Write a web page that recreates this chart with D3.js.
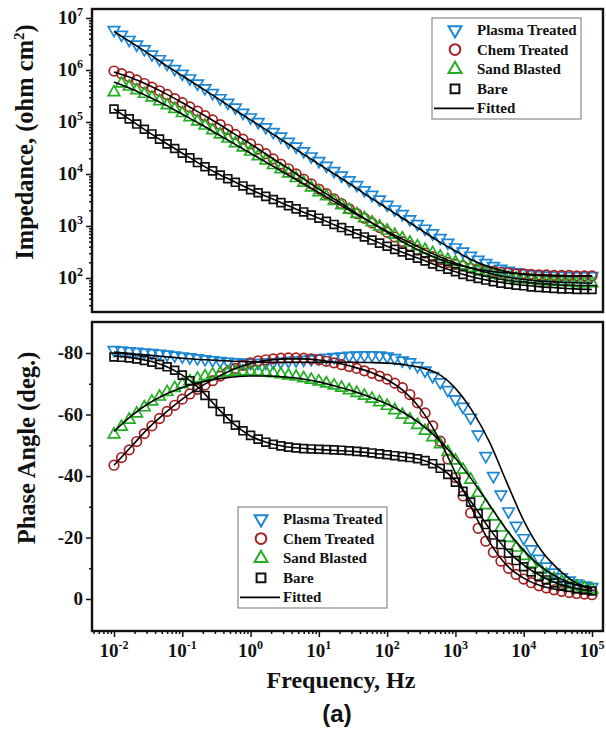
<!DOCTYPE html>
<html>
<head>
<meta charset="utf-8">
<script src="https://cdn.jsdelivr.net/npm/d3@7.9.0/dist/d3.min.js"></script>
<style>
  body { margin: 0; background: #fff; }
  svg text { font-family: "Liberation Serif", "DejaVu Serif", serif; font-weight: bold; fill: #111; }
  .axis line { stroke: #111; stroke-width: 1.5; }
</style>
</head>
<body>
<svg id="chart" width="606" height="731"></svg>
<script>
// frequencies of the measured points, Hz
const freq = [
  0.01, 0.0129, 0.0167, 0.0215, 0.0278, 0.0359, 0.0464, 0.0599, 0.0774,
  0.1, 0.129, 0.167, 0.215, 0.278, 0.359, 0.464, 0.599, 0.774,
  1, 1.29, 1.67, 2.15, 2.78, 3.59, 4.64, 5.99, 7.74,
  10, 12.9, 16.7, 21.5, 27.8, 35.9, 46.4, 59.9, 77.4,
  100, 129, 167, 215, 278, 359, 464, 599, 774,
  1000, 1290, 1670, 2150, 2780, 3590, 4640, 5990, 7740,
  10000, 12900, 16700, 21500, 27800, 35900, 46400, 59900, 77400,
  100000
];

// log10 |Z| (ohm cm2)
const logZPlasma = [
  6.77, 6.68, 6.58, 6.49, 6.40, 6.30, 6.21, 6.12, 6.02,
  5.93, 5.84, 5.74, 5.65, 5.56, 5.46, 5.37, 5.28, 5.18,
  5.09, 5.00, 4.90, 4.81, 4.72, 4.62, 4.53, 4.44, 4.34,
  4.25, 4.16, 4.06, 3.97, 3.88, 3.79, 3.69, 3.60, 3.51,
  3.41, 3.32, 3.23, 3.13, 3.04, 2.95, 2.86, 2.77, 2.68,
  2.59, 2.51, 2.43, 2.35, 2.29, 2.23, 2.18, 2.14, 2.11,
  2.09, 2.07, 2.06, 2.05, 2.05, 2.05, 2.04, 2.04, 2.04,
  2.04
];
const logZChem = [
  5.98, 5.93, 5.87, 5.81, 5.74, 5.67, 5.60, 5.53, 5.45,
  5.37, 5.29, 5.21, 5.12, 5.04, 4.95, 4.86, 4.76, 4.67,
  4.58, 4.48, 4.39, 4.29, 4.19, 4.10, 4.00, 3.90, 3.81,
  3.71, 3.62, 3.52, 3.43, 3.33, 3.24, 3.15, 3.06, 2.97,
  2.88, 2.79, 2.70, 2.62, 2.54, 2.48, 2.41, 2.35, 2.30,
  2.26, 2.23, 2.19, 2.17, 2.14, 2.13, 2.11, 2.10, 2.08,
  2.08, 2.07, 2.06, 2.06, 2.05, 2.05, 2.05, 2.04, 2.04,
  2.04
];
const logZSand = [
  5.57, 5.74, 5.68, 5.61, 5.54, 5.47, 5.40, 5.32, 5.25,
  5.17, 5.09, 5.01, 4.93, 4.84, 4.76, 4.68, 4.59, 4.51,
  4.43, 4.34, 4.26, 4.17, 4.09, 4.01, 3.92, 3.83, 3.74,
  3.65, 3.57, 3.48, 3.40, 3.31, 3.23, 3.15, 3.07, 2.99,
  2.91, 2.83, 2.76, 2.68, 2.61, 2.54, 2.48, 2.41, 2.35,
  2.30, 2.24, 2.19, 2.15, 2.11, 2.07, 2.04, 2.01, 1.99,
  1.97, 1.96, 1.94, 1.93, 1.92, 1.92, 1.91, 1.90, 1.90,
  1.90
];
const logZBare = [
  5.25, 5.15, 5.06, 4.96, 4.86, 4.77, 4.67, 4.58, 4.49,
  4.40, 4.31, 4.22, 4.14, 4.06, 3.98, 3.91, 3.84, 3.77,
  3.70, 3.64, 3.57, 3.51, 3.45, 3.39, 3.33, 3.27, 3.21,
  3.15, 3.09, 3.03, 2.97, 2.91, 2.85, 2.79, 2.73, 2.67,
  2.61, 2.55, 2.50, 2.44, 2.38, 2.33, 2.27, 2.22, 2.17,
  2.12, 2.07, 2.03, 1.99, 1.96, 1.93, 1.90, 1.88, 1.86,
  1.85, 1.83, 1.82, 1.81, 1.80, 1.79, 1.79, 1.78, 1.78,
  1.78
];

// phase angle (deg.)
const phasePlasma = [
  -81.0, -80.8, -80.6, -80.4, -80.2, -80.0, -79.8, -79.5, -79.2,
  -78.9, -78.6, -78.3, -78.0, -77.7, -77.4, -77.2, -77.0, -76.9,
  -76.8, -76.8, -76.9, -77.0, -77.2, -77.4, -77.6, -77.8, -78.0,
  -78.3, -78.5, -78.7, -78.9, -79.1, -79.2, -79.3, -79.3, -79.2,
  -78.9, -78.4, -77.6, -77.0, -75.8, -74.3, -72.5, -70.5, -68.0,
  -65.0, -62.5, -59.0, -53.5, -46.5, -40.0, -34.0, -28.5, -23.8,
  -19.8, -16.2, -13.1, -10.6, -8.6, -7.1, -6.0, -5.1, -4.4,
  -3.9
];
const phaseChem = [
  -43.5, -46.0, -48.5, -51.2, -53.8, -56.3, -58.7, -61.0, -63.0,
  -65.0, -66.7, -68.2, -69.6, -71.0, -72.5, -73.8, -75.0, -76.0,
  -76.8, -77.4, -77.8, -78.1, -78.3, -78.4, -78.4, -78.3, -78.1,
  -77.8, -77.3, -76.8, -76.2, -75.6, -75.0, -74.2, -73.4, -72.5,
  -71.5, -70.2, -68.7, -66.5, -63.8, -60.5, -56.3, -51.3, -45.5,
  -39.5, -33.5, -28.0, -23.0, -18.8, -15.2, -12.3, -10.0, -8.0,
  -6.5, -5.3, -4.3, -3.6, -3.0, -2.5, -2.1, -1.8, -1.6,
  -1.4
];
const phaseSand = [
  -53.5, -56.0, -58.3, -60.3, -62.3, -64.2, -65.8, -67.3, -68.6,
  -69.8, -70.8, -71.7, -72.4, -73.0, -73.4, -73.7, -73.9, -74.0,
  -74.0, -73.9, -73.7, -73.4, -73.1, -72.7, -72.3, -71.8, -71.3,
  -70.7, -70.1, -69.4, -68.7, -67.9, -67.0, -66.1, -65.1, -64.0,
  -62.8, -61.4, -59.9, -58.3, -56.6, -54.7, -52.6, -50.3, -47.8,
  -45.0, -42.0, -38.8, -34.5, -30.5, -26.8, -23.2, -19.8, -16.7,
  -14.0, -11.5, -9.5, -7.9, -6.6, -5.6, -4.8, -4.1, -3.6,
  -3.1
];
const phaseBare = [
  -78.7, -78.6, -78.4, -78.1, -77.6, -77.0, -76.3, -75.5, -74.4,
  -72.8, -71.0, -68.8, -66.2, -63.6, -61.0, -58.6, -56.5, -54.7,
  -53.2, -52.0, -51.0, -50.3, -49.8, -49.4, -49.1, -48.9, -48.8,
  -48.7, -48.6, -48.5, -48.4, -48.2, -48.0, -47.8, -47.5, -47.2,
  -46.9, -46.6, -46.3, -46.0, -45.6, -45.0, -44.0, -42.5, -40.5,
  -38.0, -35.0, -31.5, -27.8, -24.2, -20.8, -17.7, -14.9, -12.5,
  -10.5, -8.8, -7.4, -6.2, -5.2, -4.4, -3.8, -3.3, -2.9,
  -2.6
];

// fitted curves (equivalent circuit), sampled at 4 points per decade
const fitFreq = [
  0.01, 0.0178, 0.0316, 0.0562, 0.1, 0.178, 0.316, 0.562, 1, 1.78, 3.16, 5.62,
  10, 17.8, 31.6, 56.2, 100, 178, 316, 562, 1000, 1780, 3160, 5620,
  10000, 17800, 31600, 56200, 100000
];
const fitZPlasma = [6.74, 6.53, 6.32, 6.10, 5.89, 5.68, 5.47, 5.25, 5.04, 4.83, 4.62, 4.40, 4.19, 3.98, 3.77, 3.55, 3.34, 3.13, 2.92, 2.71, 2.52, 2.34, 2.21, 2.12, 2.07, 2.05, 2.04, 2.04, 2.04];
const fitZChem = [5.96, 5.85, 5.71, 5.55, 5.37, 5.18, 4.99, 4.78, 4.58, 4.36, 4.15, 3.93, 3.71, 3.50, 3.29, 3.08, 2.88, 2.68, 2.51, 2.37, 2.26, 2.19, 2.13, 2.10, 2.08, 2.06, 2.05, 2.04, 2.04];
const fitZSand = [5.77, 5.64, 5.49, 5.33, 5.15, 4.97, 4.78, 4.59, 4.40, 4.21, 4.02, 3.83, 3.64, 3.45, 3.26, 3.08, 2.90, 2.73, 2.57, 2.42, 2.29, 2.18, 2.09, 2.02, 1.97, 1.94, 1.92, 1.91, 1.90];
const fitZBare = [5.25, 5.03, 4.81, 4.60, 4.40, 4.20, 4.02, 3.86, 3.70, 3.56, 3.42, 3.28, 3.15, 3.01, 2.88, 2.75, 2.61, 2.48, 2.36, 2.23, 2.12, 2.02, 1.95, 1.90, 1.86, 1.83, 1.81, 1.79, 1.78];

const fitPhPlasma = [-80.3, -79.8, -79.3, -78.8, -78.3, -77.9, -77.6, -77.3, -77.1, -77.0, -77.0, -77.0, -77.0, -77.0, -77.0, -76.9, -76.7, -76.2, -75.2, -73.2, -68.5, -61.0, -51.0, -38.0, -25.5, -16.0, -9.8, -5.5, -3.3];
const fitPhChem = [-43.5, -49.5, -55.5, -60.5, -65.0, -68.8, -72.0, -74.7, -76.6, -77.6, -78.1, -78.1, -77.7, -76.8, -75.5, -73.8, -71.3, -67.5, -61.5, -52.5, -41.0, -29.0, -18.5, -11.0, -6.8, -4.3, -3.0, -2.2, -1.7];
const fitPhSand = [-54.5, -59.5, -63.5, -66.5, -68.8, -70.4, -71.5, -72.2, -72.5, -72.5, -72.2, -71.6, -70.6, -69.2, -67.6, -65.7, -63.4, -60.5, -56.8, -52.0, -45.8, -38.5, -30.5, -22.5, -15.8, -10.5, -7.0, -4.7, -3.3];
const fitPhBare = [-79.0, -78.5, -77.5, -75.8, -72.8, -68.5, -62.5, -57.0, -53.0, -50.8, -49.6, -49.0, -48.6, -48.3, -48.0, -47.5, -46.9, -46.2, -45.3, -43.0, -38.5, -31.0, -22.8, -16.0, -11.0, -7.5, -5.0, -3.5, -2.6];

const zTicks = [1e2, 1e3, 1e4, 1e5, 1e6, 1e7];
const phaseTicks = [-80, -60, -40, -20, 0];
const freqTicks = [1e-2, 1e-1, 1e0, 1e1, 1e2, 1e3, 1e4, 1e5];

const series = [
  { name: 'Plasma Treated', color: '#1b87d4', shape: d3.symbolTriangle, size: 58, rot: 180, z: logZPlasma, ph: phasePlasma, fz: fitZPlasma, fph: fitPhPlasma },
  { name: 'Chem Treated', color: '#a51f1f', shape: d3.symbolCircle, size: 72, rot: 0, z: logZChem, ph: phaseChem, fz: fitZChem, fph: fitPhChem },
  { name: 'Sand Blasted', color: '#22ae22', shape: d3.symbolTriangle, size: 58, rot: 0, z: logZSand, ph: phaseSand, fz: fitZSand, fph: fitPhSand },
  { name: 'Bare', color: '#111111', shape: d3.symbolSquare, size: 62, rot: 0, z: logZBare, ph: phaseBare, fz: fitZBare, fph: fitPhBare }
];

const svg = d3.select('#chart');
const panelZ = { x0: 92, x1: 603, y0: 9, y1: 312 };
const panelP = { x0: 92, x1: 603, y0: 322, y1: 631 };

const x = d3.scaleLog().domain([1e-2, 1e5]).range([114, 592]);
const yZ = d3.scaleLog().domain([1e2, 1e7]).range([278, 18]);
const yP = d3.scaleLinear().domain([0, -80]).range([599, 353]);

// superscript label "10^n"
function powLabel(sel, v) {
  sel.append('tspan').text('10');
  sel.append('tspan').attr('dy', -8).attr('font-size', 12).text(Math.round(Math.log10(v)));
}

function minorLog(scale, lo, hi) {
  let out = [];
  for (let e = -3; e <= 7; e++) {
    for (let m = 2; m <= 9; m++) {
      let v = m * Math.pow(10, e);
      let p = scale(v);
      if (p >= lo && p <= hi) out.push(v);
    }
  }
  return out;
}

// ---- top panel: impedance axis
svg.append('g').attr('class', 'axis').attr('transform', `translate(${panelZ.x0},0)`)
  .call(d3.axisLeft(yZ).tickValues(minorLog(yZ, panelZ.y0 + 1, panelZ.y1 - 1)).tickSize(3).tickFormat(''));
svg.append('g').attr('class', 'axis').attr('transform', `translate(${panelZ.x0},0)`)
  .call(d3.axisLeft(yZ).tickValues(zTicks).tickSize(6).tickFormat(''));
svg.selectAll('.axis .domain').remove();

zTicks.forEach(v => {
  svg.append('text')
    .attr('x', panelZ.x0 - 9).attr('y', yZ(v) + 6)
    .attr('text-anchor', 'end').attr('font-size', 19)
    .call(powLabel, v);
});

// ---- bottom panel: phase axis and frequency axis
svg.append('g').attr('class', 'axis').attr('transform', `translate(${panelP.x0},0)`)
  .call(d3.axisLeft(yP).tickValues([-70, -50, -30, -10]).tickSize(3).tickFormat(''));
svg.append('g').attr('class', 'axis').attr('transform', `translate(${panelP.x0},0)`)
  .call(d3.axisLeft(yP).tickValues(phaseTicks).tickSize(6).tickFormat(''));
svg.append('g').attr('class', 'axis').attr('transform', `translate(0,${panelP.y1})`)
  .call(d3.axisBottom(x).tickValues(minorLog(x, panelP.x0 + 1, panelP.x1 - 1)).tickSize(3).tickFormat(''));
svg.append('g').attr('class', 'axis').attr('transform', `translate(0,${panelP.y1})`)
  .call(d3.axisBottom(x).tickValues(freqTicks).tickSize(6).tickFormat(''));
svg.selectAll('.axis .domain').remove();

phaseTicks.forEach(v => {
  svg.append('text')
    .attr('x', panelP.x0 - 9).attr('y', yP(v) + 6)
    .attr('text-anchor', 'end').attr('font-size', 19)
    .text(v);
});
freqTicks.forEach(v => {
  svg.append('text')
    .attr('x', x(v)).attr('y', 657)
    .attr('text-anchor', 'middle').attr('font-size', 19)
    .call(powLabel, v);
});

// ---- markers and fitted lines
function drawSeries(g, yScale, key, fitKey, isLog) {
  let yv = v => yScale(isLog ? Math.pow(10, v) : v);
  series.forEach(s => {
    g.append('g').selectAll('path')
      .data(s[key])
      .join('path')
      .attr('d', d3.symbol(s.shape, s.size))
      .attr('transform', (d, i) => `translate(${x(freq[i])},${yv(d)}) rotate(${s.rot})`)
      .attr('fill', 'none')
      .attr('stroke', s.color)
      .attr('stroke-width', 1.7);
  });
  let line = d3.line()
    .x((d, i) => x(fitFreq[i]))
    .y(d => yv(d))
    .curve(d3.curveMonotoneX);
  series.forEach(s => {
    g.append('path')
      .attr('d', line(s[fitKey]))
      .attr('fill', 'none')
      .attr('stroke', '#000')
      .attr('stroke-width', 1.6);
  });
}

drawSeries(svg.append('g'), yZ, 'z', 'fz', true);
drawSeries(svg.append('g'), yP, 'ph', 'fph', false);

// frames
[panelZ, panelP].forEach(p => {
  svg.append('rect')
    .attr('x', p.x0).attr('y', p.y0)
    .attr('width', p.x1 - p.x0).attr('height', p.y1 - p.y0)
    .attr('fill', 'none').attr('stroke', '#111').attr('stroke-width', 2.4);
});

// legends
function legend(x0, y0) {
  let g = svg.append('g').attr('transform', `translate(${x0},${y0})`);
  g.append('rect')
    .attr('x', 0).attr('y', 0).attr('width', 149).attr('height', 101)
    .attr('fill', '#fff').attr('stroke', '#8a8a8a').attr('stroke-width', 1.2);
  series.forEach((s, i) => {
    let cy = 12 + i * 19.6;
    g.append('path')
      .attr('d', d3.symbol(s.shape, s.size * 1.25))
      .attr('transform', `translate(23,${cy}) rotate(${s.rot})`)
      .attr('fill', 'none').attr('stroke', s.color).attr('stroke-width', 2);
    g.append('text')
      .attr('x', 45).attr('y', cy + 5)
      .attr('font-size', 15)
      .text(s.name);
  });
  let cy = 12 + 4 * 19.6;
  g.append('line')
    .attr('x1', 2).attr('x2', 42).attr('y1', cy).attr('y2', cy)
    .attr('stroke', '#000').attr('stroke-width', 1.6);
  g.append('text').attr('x', 45).attr('y', cy + 5).attr('font-size', 15).text('Fitted');
}
legend(432, 18);
legend(238, 507);

// axis titles
svg.append('text')
  .attr('transform', 'translate(33,142) rotate(-90)')
  .attr('text-anchor', 'middle').attr('font-size', 24.5)
  .call(t => {
    t.append('tspan').text('Impedance, (ohm cm');
    t.append('tspan').attr('dy', -9).attr('font-size', 15).text('2');
    t.append('tspan').attr('dy', 9).text(')');
  });
svg.append('text')
  .attr('transform', 'translate(35,448) rotate(-90)')
  .attr('text-anchor', 'middle').attr('font-size', 24.5)
  .text('Phase Angle (deg.)');
svg.append('text')
  .attr('x', 341).attr('y', 688)
  .attr('text-anchor', 'middle').attr('font-size', 24)
  .text('Frequency, Hz');
svg.append('text')
  .attr('x', 337).attr('y', 722)
  .attr('text-anchor', 'middle').attr('font-size', 24)
  .style('font-family', 'Liberation Sans, Arial, sans-serif')
  .text('(a)');
</script>
</body>
</html>
